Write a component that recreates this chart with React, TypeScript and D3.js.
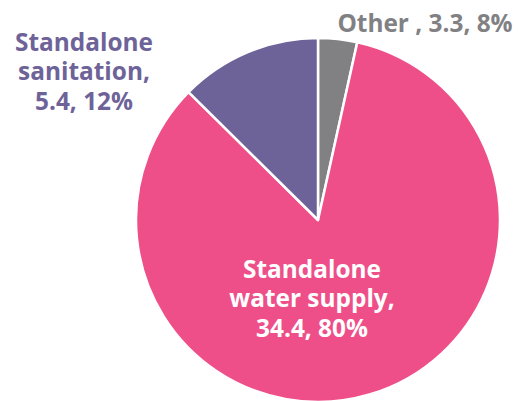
import React from "react";
import * as d3 from "d3";

const categories = ["Other ", "Standalone water supply", "Standalone sanitation"];
const amounts = ["3.3", "34.4", "5.4"];
const percents = ["8%", "80%", "12%"];
// slice sizes as drawn in the reference
const sliceValues = [3.3, 80, 12];
const colors = ["#818184", "#EE4F89", "#6E6399"];
const labelColors = ["#818184", "#FFFFFF", "#6E6399"];

const W = 519;
const H = 401;
const cx = 318;
const cy = 220;
const R = 182;

// label lines & offsets relative to pie centre
const labelLines = [
  [`${categories[0]}, ${amounts[0]}, ${percents[0]}`],
  ["Standalone", "water supply,", `${amounts[1]}, ${percents[1]}`],
  ["Standalone", "sanitation,", `${amounts[2]}, ${percents[2]}`],
];
const labelPos = [
  { dx: 107, dy: -188, anchor: "middle" },
  { dx: -6, dy: 58, anchor: "middle" },
  { dx: -234, dy: -169, anchor: "middle" },
];

export default function App() {
  const pie = d3.pie<number>().sort(null).startAngle(0).endAngle(2 * Math.PI);
  const arcs = pie(sliceValues);
  const arc = d3.arc<d3.PieArcDatum<number>>().innerRadius(0).outerRadius(R);
  const lineH = 29.3;
  return (
    <svg width={W} height={H} style={{ position: "absolute", left: 0, top: 0 }}>
      <g transform={`translate(${cx},${cy})`}>
        {arcs.map((a, i) => (
          <path key={i} d={arc(a) || ""} fill={colors[i]} stroke="#fff" strokeWidth={2.5} strokeLinejoin="round" />
        ))}
        {labelLines.map((lines, i) => (
          <text
            key={i}
            x={labelPos[i].dx}
            y={labelPos[i].dy}
            textAnchor={labelPos[i].anchor as any}
            fill={labelColors[i]}
            fontFamily="'Open Sans', sans-serif"
            fontWeight={700}
            fontSize={24.4}
          >
            {lines.map((l, j) => (
              <tspan key={j} x={labelPos[i].dx} dy={j === 0 ? 0 : lineH}>
                {l}
              </tspan>
            ))}
          </text>
        ))}
      </g>
    </svg>
  );
}
